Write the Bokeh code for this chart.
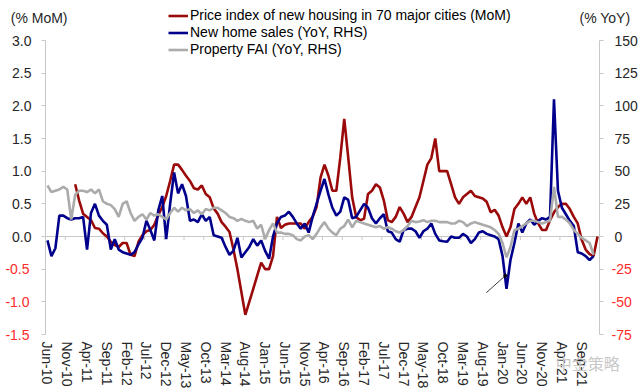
import pandas as pd
from bokeh.plotting import figure
from bokeh.models import (Range1d, LinearAxis, FixedTicker, CustomJSTickFormatter,
                          Span, Legend, LegendItem, ColumnDataSource)
from bokeh.embed import file_html
from bokeh.resources import INLINE

NAN = float("nan")

# ---- data (monthly, Jun-10 .. Jan-22) ----
months = pd.date_range("2010-06-01", periods=140, freq="MS").strftime("%b-%y").tolist()

price_mom = [NAN] * 7 + [
    0.8, 0.55, 0.35, 0.3, 0.25, 0.13, 0.12, 0.05, 0.0, -0.08, -0.13, -0.16, -0.1, -0.1,
    -0.28, -0.3, -0.08, 0.02, 0.08, 0.1, 0.18, 0.33, 0.45, 0.62, 0.85, 1.1, 1.1, 1.02,
    0.93, 0.85, 0.74, 0.72, 0.78, 0.65, 0.6, 0.43, 0.35, 0.22, 0.15, 0.07, -0.2, -0.5,
    -0.85, -1.2, -1.0, -0.8, -0.6, -0.4, -0.5, -0.5, -0.3, 0.3, 0.13, 0.18, 0.2, 0.2,
    0.2, 0.2, 0.12, 0.22, 0.3, 0.45, 0.9, 1.1, 0.93, 0.7, 0.7, 1.21, 1.8, 1.21, 0.6,
    0.3, 0.25, 0.27, 0.65, 0.7, 0.8, 0.75, 0.55, 0.25, 0.22, 0.3, 0.45, 0.35, 0.22,
    0.3, 0.45, 0.6, 0.85, 1.1, 1.2, 1.5, 1.0, 1.0, 1.0, 0.8, 0.6, 0.5, 0.6, 0.65, 0.7,
    0.62, 0.6, 0.58, 0.53, 0.37, 0.41, 0.32, 0.14, 0.0, 0.14, 0.42, 0.5, 0.6, 0.5, 0.6,
    0.35, 0.2, 0.1, 0.1, 0.25, 0.37, 0.45, 0.5, 0.5, 0.42, 0.3, 0.2, -0.05, -0.2,
    -0.27, -0.3, 0.0]

sales_yoy = [
    -3, -15, -9, 16, 16, 14, 13, 14, 14, 15, -10, 18, 25, 16, 12, 9, -10, -2, -10, -12,
    -13, -14, -12, -6, -1, 12, 5, -3, 20, 31, -2, 25, 49, 33, 40, 31, 12, 13, 11, 17,
    12, 15, 1, 0, -1, -8, -14, -11, -1, -16, -12, -8, -2, -7, -3, -11, -17, 0, 10, 15,
    16, 19, 15, 10, 6, 10, 3, 15, 25, 35, 44, 32, 22, 16, 19, 30, 28, 14, 15, 20, 25,
    22, 14, 10, 14, 17, 4, 3, -2, -4, 5, 6, 6, 4, -1, 4, 6, 10, 2, -3, -3.6, -4, 0, -1,
    -1, 2, 0, -5, -2, 3, 4, 2, 1, 0, -2, -15, -40, -18, -5, 10, 3, 10, 13, 9, 12, 14,
    13, 15, 105, 35, 22, 17, 12, 8, -12, -13, -15, -18, -15] + [NAN]

fai_yoy = [
    39, 34, 35, 36, 38, 36, 13, 32, 35, 35, 34, 36, 33, 36, 27, 25, 24, 21, 15, 25, 27,
    18, 12, 15, 17, 13, 18, 16, 17, 15, 13, 18, 22, 19, 22, 20, 21, 18, 20, 17, 21, 20,
    22, 22, 20, 18, 15, 14, 12, 13.5, 12, 11, 12, 6, 9, -2, 5, 10, 3, 3, 2, 2, 1, -2, -3,
    0, 1, -2, 2, 7, 11, 6, 3, 1, 6, 8, 13, 7, 12, 11, 10, 9, 8, 7, 8, 6, 7, 6, 4, 3, 5,
    8, 12, 11, 11.5, 12.5, 11, 12, 12, 11, 11, 11, 10, 10, 12, 11, 8, 10, 11, 10, 9, 8,
    7, 5, 2, -5, -16, -8, 5, 6, 8, 10, 12, 12, 11, 10, 11, 12, 38, 15, 15, 13, 10, 5, 2,
    -1, -3, -5, -14] + [NAN]

left_ticks = [-1.5, -1.0, -0.5, 0.0, 0.5, 1.0, 1.5, 2.0, 2.5, 3.0]
right_ticks = [-75, -50, -25, 0, 25, 50, 75, 100, 125, 150]
tick_idx = list(range(0, 140, 5))
leader_x = [110.9, 115.7]
leader_y = [-43, -30]

x = list(range(len(months)))
src = ColumnDataSource(dict(x=x, price=price_mom, sales=sales_yoy, fai=fai_yoy))

FONT = "Liberation Sans"
TXT = "#262626"
NEG = "#FF2A2A"
AX = "#C8C8C8"
RED = "#9B0A0A"
BLUE = "#00008C"
GREY = "#ABABAB"

# frame spans from the canvas top down to the -1.5 line, so the legend fits inside it
L_TOP = 3.0 + 40 * 4.5 / 294
R_TOP = 150 + 40 * 225 / 294

p = figure(width=640, height=392, title=None, x_range=Range1d(-0.5, len(months) - 0.5),
           y_range=Range1d(-1.5, L_TOP), output_backend="svg", toolbar_location=None,
           min_border_left=45, min_border_right=40, min_border_top=0, min_border_bottom=58)
p.extra_y_ranges = {"rhs": Range1d(-75, R_TOP)}
p.xgrid.visible = False
p.ygrid.visible = False
p.outline_line_color = None
p.background_fill_color = "white"


def style_labels_only(ax, standoff, color=TXT, font=FONT, size="14px"):
    ax.axis_line_color = None
    ax.major_tick_line_color = None
    ax.minor_tick_line_color = None
    ax.major_tick_out = 0
    ax.major_tick_in = 0
    ax.major_label_standoff = standoff
    ax.major_label_text_font = font
    ax.major_label_text_font_size = size
    ax.major_label_text_color = color


def blank_line_axis(ax, ticks, bounds):
    ax.ticker = FixedTicker(ticks=ticks)
    ax.formatter = CustomJSTickFormatter(code="return '';")
    ax.bounds = bounds
    ax.axis_line_color = AX
    ax.major_tick_line_color = AX
    ax.major_tick_out = 4
    ax.major_tick_in = 0
    ax.minor_tick_line_color = None
    ax.major_label_standoff = 0


# ---- left side: line+ticks, black labels, red labels, unit title ----
blank_line_axis(p.yaxis[0], left_ticks, (-1.5, 3.0))
lp = LinearAxis(ticker=FixedTicker(ticks=[t for t in left_ticks if t >= 0]),
                formatter=CustomJSTickFormatter(code="return tick.toFixed(1);"))
style_labels_only(lp, 10)
p.add_layout(lp, "left")
ln = LinearAxis(ticker=FixedTicker(ticks=[t for t in left_ticks if t < 0]),
                formatter=CustomJSTickFormatter(code="return tick.toFixed(1);"))
style_labels_only(ln, -20, color=NEG)
p.add_layout(ln, "left")
lt = LinearAxis(ticker=FixedTicker(ticks=[3.35]),
                formatter=CustomJSTickFormatter(code="return '(% MoM)';"))
style_labels_only(lt, -65)
p.add_layout(lt, "left")

# ---- right side ----
ra = LinearAxis(y_range_name="rhs")
blank_line_axis(ra, right_ticks, (-75, 150))
p.add_layout(ra, "right")
rn = LinearAxis(y_range_name="rhs", ticker=FixedTicker(ticks=[t for t in right_ticks if t < 0]),
                formatter=CustomJSTickFormatter(code="return tick.toFixed(0);"))
style_labels_only(rn, 8, color=NEG)
p.add_layout(rn, "right")
rp = LinearAxis(y_range_name="rhs", ticker=FixedTicker(ticks=[t for t in right_ticks if t >= 0]),
                formatter=CustomJSTickFormatter(code="return tick.toFixed(0);"))
style_labels_only(rp, -20)
p.add_layout(rp, "right")
rt = LinearAxis(y_range_name="rhs", ticker=FixedTicker(ticks=[167.5]),
                formatter=CustomJSTickFormatter(code="return '(% YoY)';"))
style_labels_only(rt, -61)
p.add_layout(rt, "right")

# ---- bottom: month labels, then the watermark ----
xa = p.xaxis[0]
xa.ticker = FixedTicker(ticks=tick_idx)
xa.major_label_overrides = {i: months[i] for i in tick_idx}
xa.major_label_orientation = "vertical"
style_labels_only(xa, 7)
wm = LinearAxis(ticker=FixedTicker(ticks=[136.5]),
                formatter=CustomJSTickFormatter(code="return '中金策略';"))
style_labels_only(wm, -41, color="#C8C8C8", font="Noto Sans CJK SC", size="16px")
p.add_layout(wm, "below")

# zero line with category ticks
p.add_layout(Span(location=0, dimension="width", line_color=AX, line_width=1, level="underlay"))
p.segment(x0=[i - 0.5 for i in tick_idx], y0=0, x1=[i - 0.5 for i in tick_idx], y1=-0.055,
          line_color=AX, line_width=1)

# series
r1 = p.line("x", "price", source=src, line_color=RED, line_width=2.6)
r2 = p.line("x", "sales", source=src, line_color=BLUE, line_width=2.6, y_range_name="rhs")
r3 = p.line("x", "fai", source=src, line_color=GREY, line_width=2.6, y_range_name="rhs")

# leader line of a removed data label
p.line(leader_x, leader_y, y_range_name="rhs", line_color="#404040", line_width=1)
p.scatter(leader_x[1:], leader_y[1:], y_range_name="rhs", size=3, color="#000000")

legend = Legend(items=[
    LegendItem(label="Price index of new housing in 70 major cities (MoM)", renderers=[r1]),
    LegendItem(label="New home sales (YoY, RHS)", renderers=[r2]),
    LegendItem(label="Property FAI (YoY, RHS)", renderers=[r3]),
], location=(123, 276.5), orientation="vertical", border_line_color=None,
    background_fill_alpha=0, padding=0, margin=0, spacing=0, glyph_width=20,
    glyph_height=17, label_height=17, label_standoff=2, label_text_font=FONT,
    label_text_font_size="14px", label_text_color="#000000")
p.add_layout(legend)

open("out.html", "w").write(file_html(p, INLINE))
